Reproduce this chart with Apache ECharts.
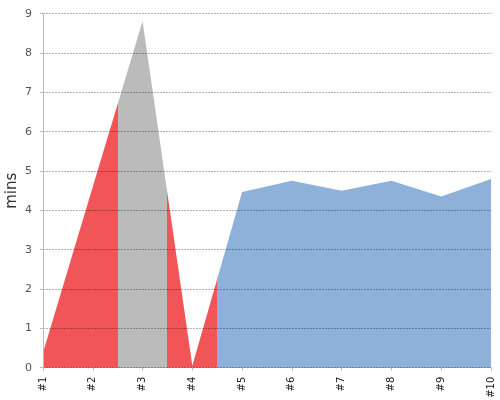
<!DOCTYPE html>
<html>
<head>
<meta charset="utf-8">
<script src="https://cdn.jsdelivr.net/npm/echarts@6/dist/echarts.min.js"></script>
<style>
  html, body { margin: 0; padding: 0; background: #fff; }
  #main { width: 500px; height: 400px; }
</style>
</head>
<body>
<div id="main"></div>
<script>
// chart data
var categories = ['#1', '#2', '#3', '#4', '#5', '#6', '#7', '#8', '#9', '#10'];
var minutes = [0.38, 4.6, 8.81, 0.05, 4.47, 4.75, 4.5, 4.75, 4.35, 4.8];
// colour bands along x (category index)
var bandBreaks = [1.5, 2.5, 3.5];
var bandColors = ['#f25557', '#bbbbbb', '#f25557', '#8eb1da'];

var myChart = echarts.init(document.getElementById('main'));

var pieces = [];
for (var i = 0; i < bandColors.length; i++) {
    var p = { color: bandColors[i] };
    if (i > 0) p.gte = bandBreaks[i - 1];
    if (i < bandBreaks.length) p.lt = bandBreaks[i];
    pieces.push(p);
}

// value axis on x so that colour breaks can fall between categories
var points = minutes.map(function (v, i) { return [i, v]; });

var option = {
    animation: false,
    grid: { left: 43, right: 9, top: 13.7, bottom: 32.3, outerBoundsMode: 'none', containLabel: false },
    visualMap: {
        show: false,
        type: 'piecewise',
        dimension: 0,
        seriesIndex: 0,
        pieces: pieces
    },
    xAxis: {
        type: 'value',
        min: 0,
        max: categories.length - 1,
        interval: 1,
        offset: 4,
        axisLine: { lineStyle: { color: '#bbb', width: 1 } },
        axisTick: { show: true, length: 3, lineStyle: { color: '#bbb' } },
        axisLabel: {
            rotate: 90,
            margin: 5,
            fontSize: 10,
            color: '#222',
            fontFamily: 'DejaVu Sans',
            showMinLabel: true,
            showMaxLabel: true,
            formatter: function (v) { return categories[v]; }
        },
        splitLine: { show: false }
    },
    yAxis: {
        type: 'value',
        min: 0,
        max: 9,
        interval: 1,
        offset: 4,
        z: 5,
        name: 'mins',
        nameLocation: 'middle',
        nameGap: 19,
        nameMoveOverlap: false,
        nameTextStyle: { fontSize: 15, color: '#333', fontFamily: 'DejaVu Sans' },
        axisLine: { show: true, lineStyle: { color: '#bbb', width: 1 } },
        axisTick: { show: true, length: 3, lineStyle: { color: '#bbb' } },
        axisLabel: { fontSize: 11, color: '#555', margin: 7, fontFamily: 'DejaVu Sans' },
        splitLine: {
            show: true,
            lineStyle: { color: 'rgba(0,0,0,0.3)', type: [2, 1], width: 1 }
        }
    },
    series: [
        {
            type: 'line',
            data: points,
            symbol: 'none',
            lineStyle: { width: 0 },
            areaStyle: { opacity: 1 }
        }
    ]
};
myChart.setOption(option);
</script>
</body>
</html>
